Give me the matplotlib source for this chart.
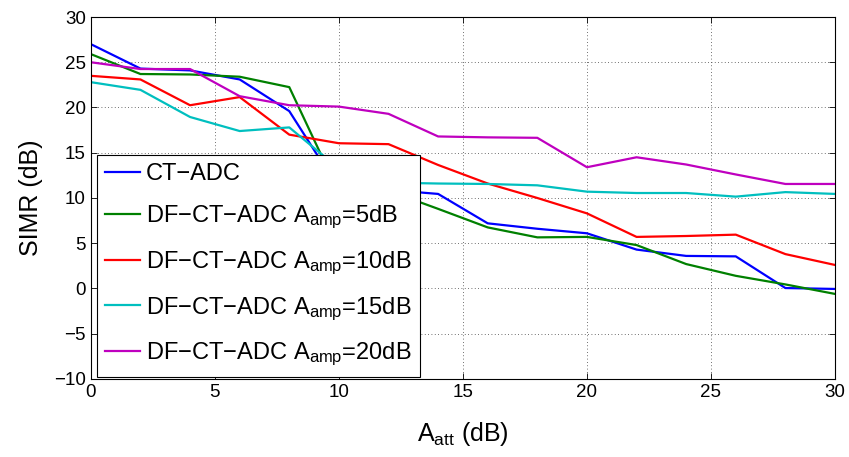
import numpy as np
import matplotlib
matplotlib.use("Agg")
import matplotlib.pyplot as plt

plt.rcParams['font.family'] = ['Liberation Sans', 'DejaVu Sans']
plt.rcParams['mathtext.fontset'] = 'custom'
plt.rcParams['mathtext.rm'] = 'Liberation Sans'
plt.rcParams['mathtext.it'] = 'Liberation Sans:italic'
plt.rcParams['axes.unicode_minus'] = True

# attenuation (dB)
a_att = np.arange(0, 31, 2)

simr_ct = [27.0, 24.3, 24.1, 23.1, 19.6, 11.0, 10.9, 10.45,
           7.2, 6.6, 6.1, 4.3, 3.6, 3.55, 0.05, -0.05]
simr_5 = [25.9, 23.7, 23.65, 23.4, 22.25, 10.6, 10.8, 8.8,
          6.75, 5.65, 5.7, 4.8, 2.7, 1.4, 0.45, -0.6]
simr_10 = [23.5, 23.1, 20.25, 21.15, 17.0, 16.05, 15.95, 13.65,
           11.6, 10.0, 8.3, 5.7, 5.8, 5.95, 3.8, 2.6]
simr_15 = [22.8, 21.95, 18.95, 17.4, 17.8, 13.25, 11.7, 11.6,
           11.55, 11.4, 10.7, 10.55, 10.55, 10.15, 10.65, 10.45]
simr_20 = [25.0, 24.25, 24.25, 21.25, 20.25, 20.1, 19.3, 16.8,
           16.7, 16.65, 13.4, 14.5, 13.7, 12.6, 11.55, 11.55]

labels = ["CT\u2212ADC",
          "DF\u2212CT\u2212ADC A$_{\\mathrm{amp}}$=5dB",
          "DF\u2212CT\u2212ADC A$_{\\mathrm{amp}}$=10dB",
          "DF\u2212CT\u2212ADC A$_{\\mathrm{amp}}$=15dB",
          "DF\u2212CT\u2212ADC A$_{\\mathrm{amp}}$=20dB"]
colors = ["#0000ff", "#008000", "#ff0000", "#00bfbf", "#bf00bf"]

fig = plt.figure(figsize=(8.49, 4.57), dpi=100)
ax = fig.add_axes([0.107, 0.1707, 0.8765, 0.7921])

for y, c, lab in zip([simr_ct, simr_5, simr_10, simr_15, simr_20], colors, labels):
    ax.plot(a_att, y, color=c, lw=1.6, label=lab)

ax.set_xlim(0, 30)
ax.set_ylim(-10, 30)
ax.set_xticks(np.arange(0, 31, 5))
ax.set_yticks(np.arange(-10, 31, 5))
ax.tick_params(direction='in', top=True, right=True, labelsize=13.5,
               length=4, width=0.6)
ax.grid(True, linestyle=(0, (1, 3)), color='#404040', lw=0.6)
for s in ax.spines.values():
    s.set_linewidth(0.8)

ax.set_xlabel("A$_{\\mathrm{att}}$ (dB)", fontsize=18, labelpad=14)
ax.set_ylabel("SIMR (dB)", fontsize=18, labelpad=8)

leg = ax.legend(loc='lower left', bbox_to_anchor=(0.0077, 0.0064),
                fontsize=17, handlelength=1.5, handletextpad=0.25,
                labelspacing=0.78, borderaxespad=0, borderpad=0.35,
                fancybox=False, framealpha=1, edgecolor='black')
leg.get_frame().set_linewidth(0.8)

fig.savefig("out.png", dpi=100)
